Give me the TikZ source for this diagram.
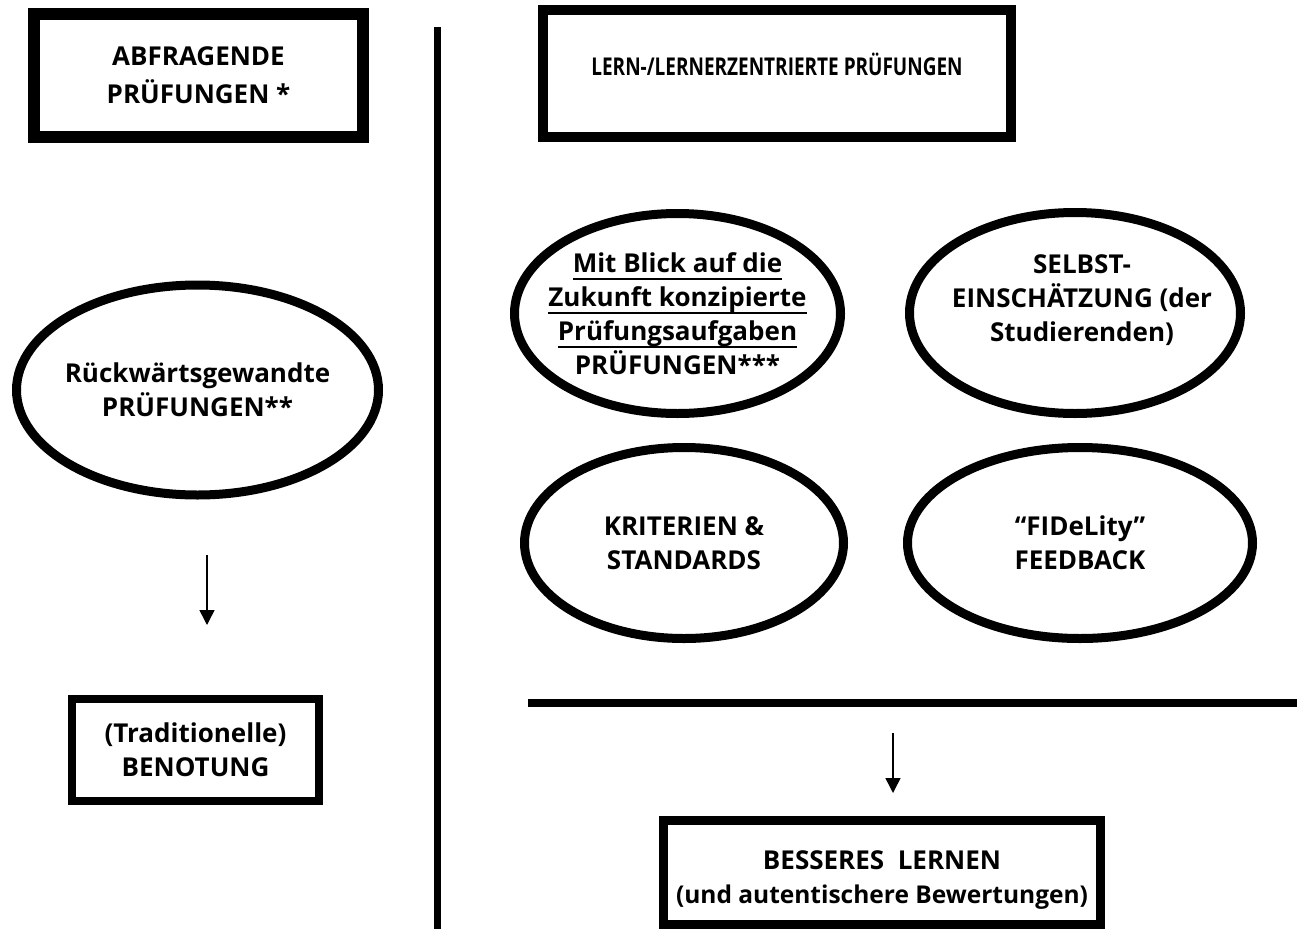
\documentclass[tikz,border=0pt]{standalone}
\usepackage{fontspec}
\setmainfont{Open Sans}
\usetikzlibrary{shapes.geometric,arrows.meta}
\newcommand{\myul}[1]{\setbox0\hbox{#1}\rlap{\rule[-8pt]{\wd0}{2pt}}\box0}
\newcommand{\zl}[1]{\makebox[0pt]{#1}}
\newcommand{\zr}[1]{\makebox[0pt]{\hspace{14pt}#1}}
\tikzset{
  txt/.style={font=\fontsize{26}{34}\selectfont\bfseries, align=center, text=black},
  thickbox/.style={txt, draw=black, rectangle, inner sep=0pt},
  oval/.style={txt, draw=black, ellipse, inner sep=0pt, line width=9pt},
  arr/.style={draw=black, line width=1.5pt, -{Triangle[width=15pt,length=15pt]}},
  rule/.style={draw=black}
}
\begin{document}
\begin{tikzpicture}[x=1pt,y=-1pt]
\useasboundingbox (0,0) rectangle (1299,929);
% boxes
\node[thickbox, line width=12pt, minimum width=329pt, minimum height=123pt,
      font=\fontsize{26}{38}\selectfont\bfseries] (abfr) at (198.5,75.5)
  {ABFRAGENDE\\PRÜFUNGEN *};
\node[thickbox, line width=10pt, minimum width=468pt, minimum height=127pt,
      font=\fontsize{24.5}{30}\selectfont\bfseries,
      text height=20pt, text depth=17pt] (lern) at (777,73.5)
  {\scalebox{0.775}[1]{LERN-/LERNERZENTRIERTE PRÜFUNGEN}};
% ellipses
\node[oval, minimum width=362pt, minimum height=210pt] (rueck) at (197.5,390)
  {\zl{Rückwärtsgewandte}\\\zl{PRÜFUNGEN**}};
\node[oval, minimum width=326pt, minimum height=200pt] (blick) at (677.5,313.5)
  {\zl{\myul{Mit Blick auf die}}\\\zl{\myul{Zukunft konzipierte}}\\\zl{\myul{Prüfungsaufgaben}}\\\zl{PRÜFUNGEN***}};
\node[oval, minimum width=331pt, minimum height=201pt] (selbst) at (1075,313)
  {\zr{SELBST-}\\\zr{EINSCHÄTZUNG (der}\\\zr{Studierenden)}\rule[-29pt]{0pt}{1pt}};
\node[oval, minimum width=319pt, minimum height=191pt] (krit) at (684,543)
  {\zl{KRITERIEN \&}\\\zl{STANDARDS}};
\node[oval, minimum width=345pt, minimum height=191pt] (fid) at (1080,543)
  {\zl{“FIDeLity”}\\\zl{FEEDBACK}};
% lower boxes
\node[thickbox, line width=8pt, minimum width=247pt, minimum height=102pt] (bnt) at (195.5,750)
  {(Traditionelle)\\BENOTUNG};
\node[thickbox, line width=9pt, minimum width=437pt, minimum height=104pt] (bess) at (882,872)
  {\rule{0pt}{34pt}BESSERES\ \ LERNEN\\{\fontsize{24.5}{34}\selectfont(und autentischere Bewertungen)}};
% rules
\coordinate (vtop) at (437,27);
\coordinate (vbot) at (437,929);
\draw[rule, line width=7pt] (vtop) -- (vbot);
\coordinate (hl) at (528,702.5);
\coordinate (hr) at (1297,702.5);
\draw[rule, line width=8pt] (hl) -- (hr);
% arrows
\coordinate (a1s) at (207,555);
\coordinate (a1e) at (207,625);
\draw[arr] (a1s) -- (a1e);
\coordinate (a2s) at (893,733);
\coordinate (a2e) at (893,793);
\draw[arr] (a2s) -- (a2e);
\end{tikzpicture}
\end{document}
